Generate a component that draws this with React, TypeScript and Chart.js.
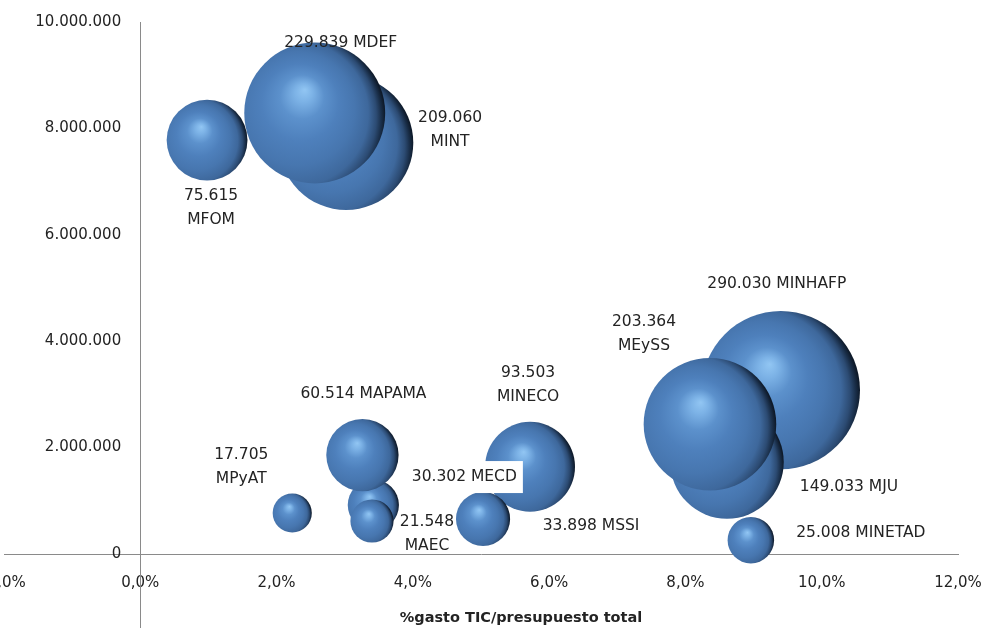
import React, { useEffect, useRef } from 'react';
import { Chart, registerables } from 'chart.js';

Chart.register(...registerables);

// ---- Data ----
// back-to-front drawing order
const ministries = ['MINT', 'MDEF', 'MFOM', 'MINHAFP', 'MJU', 'MEySS', 'MINETAD', 'MECD', 'MAPAMA', 'MAEC', 'MPyAT', 'MINECO', 'MSSI'];
// bubble size: gasto TIC (miles de euros)
const gastoTIC = [209060, 229839, 75615, 290030, 149033, 203364, 25008, 30302, 60514, 21548, 17705, 93503, 33898];
// x: % gasto TIC / presupuesto total
const pctGastoTIC = [3.02, 2.56, 0.98, 9.4, 8.61, 8.36, 8.96, 3.42, 3.26, 3.4, 2.23, 5.72, 5.03];
// y: presupuesto total
const presupuestoTotal = [7730000, 8290000, 7780000, 3080000, 1730000, 2440000, 260000, 920000, 1860000, 620000, 770000, 1640000, 660000];

const xTickValues = [-2, 0, 2, 4, 6, 8, 10, 12];
const yTickValues = [0, 2000000, 4000000, 6000000, 8000000, 10000000];
const xAxisTitle = '%gasto TIC/presupuesto total';

// ---- Formatting helpers ----
const fmtThousands = (n: number) => Math.round(n).toString().replace(/\B(?=(\d{3})+(?!\d))/g, '.');
const fmtPct = (v: number) => v.toFixed(1).replace('.', ',') + '%';

// ---- Label placement (pixel offsets from bubble centre) ----
const labelPlacement: Record<string, { dx: number; dy: number; twoLines: boolean; box?: boolean }> = {
  MDEF: { dx: 26, dy: -70, twoLines: false },
  MINT: { dx: 104, dy: -25, twoLines: true },
  MFOM: { dx: 4, dy: 56, twoLines: true },
  MINHAFP: { dx: -4, dy: -106, twoLines: false },
  MEySS: { dx: -66, dy: -102, twoLines: true },
  MINECO: { dx: -2, dy: -94, twoLines: true },
  MAPAMA: { dx: 1, dy: -61, twoLines: false },
  MPyAT: { dx: -51, dy: -58, twoLines: true },
  MECD: { dx: 91, dy: -28, twoLines: false, box: true },
  MAEC: { dx: 55, dy: 1, twoLines: true },
  MSSI: { dx: 108, dy: 7, twoLines: false },
  MJU: { dx: 122, dy: 25, twoLines: false },
  MINETAD: { dx: 110, dy: -7, twoLines: false },
};

const FONT = '"DejaVu Sans", sans-serif';
const TEXT_COLOR = '#232323';
const AXIS_COLOR = '#8a8a8a';
const SIZE_K = 0.147;
const Y_LABEL_ANCHOR = -0.28; // x value where the y tick labels end (left of the 0% axis line)

const bubbleFill = (ctx: any) => {
  const chart = ctx.chart;
  const raw = ctx.raw;
  const xs = chart.scales?.x;
  const ys = chart.scales?.y;
  if (!raw || !xs || !ys || ctx.type !== 'data') return '#4a7bb7';
  const cx = xs.getPixelForValue(raw.x);
  const cy = ys.getPixelForValue(raw.y);
  const r = raw.r;
  if (!isFinite(cx) || !isFinite(cy)) return '#4a7bb7';
  const hx = cx - 0.14 * r;
  const hy = cy - 0.33 * r;
  const g = chart.ctx.createRadialGradient(hx, hy, 0, cx - 0.3 * r, cy + 0.1 * r, 1.3 * r);
  g.addColorStop(0, '#92c6f3');
  g.addColorStop(0.1, '#7cb2e6');
  g.addColorStop(0.24, '#5c91cc');
  g.addColorStop(0.42, '#4e80bc');
  g.addColorStop(0.62, '#4776af');
  g.addColorStop(0.79, '#3e689c');
  g.addColorStop(0.89, '#2c4b73');
  g.addColorStop(0.95, '#1a2f4a');
  g.addColorStop(1, '#0e1a2a');
  return g;
};

const labelsPlugin = {
  id: 'bubbleLabels',
  afterDatasetsDraw(chart: any) {
    const ctx = chart.ctx;
    const meta = chart.getDatasetMeta(0);
    ctx.save();
    ctx.font = `15.5px ${FONT}`;
    ctx.textAlign = 'center';
    ctx.textBaseline = 'middle';
    meta.data.forEach((el: any, i: number) => {
      const name = ministries[i];
      const p = labelPlacement[name];
      if (!p) return;
      const value = fmtThousands(gastoTIC[i]);
      const cx = el.x + p.dx;
      const cy = el.y + p.dy;
      if (p.twoLines) {
        ctx.fillStyle = TEXT_COLOR;
        ctx.fillText(value, cx, cy);
        ctx.fillText(name, cx, cy + 24);
      } else {
        const text = `${value} ${name}`;
        if (p.box) {
          const w = ctx.measureText(text).width + 12;
          ctx.fillStyle = '#ffffff';
          ctx.fillRect(cx - w / 2, cy - 16, w, 32);
        }
        ctx.fillStyle = TEXT_COLOR;
        ctx.fillText(text, cx, cy);
      }
    });
    ctx.restore();
  },
};

const axisExtrasPlugin = {
  id: 'axisExtras',
  beforeDatasetsDraw(chart: any) {
    const ctx = chart.ctx;
    const x0 = Math.round(chart.scales.x.getPixelForValue(0)) + 0.5;
    ctx.save();
    ctx.strokeStyle = AXIS_COLOR;
    ctx.lineWidth = 1;
    ctx.beginPath();
    ctx.moveTo(x0, chart.chartArea.top);
    ctx.lineTo(x0, chart.height);
    ctx.stroke();
    ctx.restore();
  },
  afterDraw(chart: any) {
    const ctx = chart.ctx;
    ctx.save();
    ctx.font = `bold 14.5px ${FONT}`;
    ctx.fillStyle = TEXT_COLOR;
    ctx.textAlign = 'center';
    ctx.textBaseline = 'middle';
    ctx.fillText(xAxisTitle, 521, 618);
    ctx.restore();
  },
};

export default function App() {
  const canvasRef = useRef<HTMLCanvasElement | null>(null);

  useEffect(() => {
    document.body.style.margin = '0';
    const canvas = canvasRef.current;
    if (!canvas) return;
    const data = ministries.map((name, i) => ({
      x: pctGastoTIC[i],
      y: presupuestoTotal[i],
      r: SIZE_K * Math.sqrt(gastoTIC[i]),
      name,
    }));
    const chart = new Chart(canvas, {
      type: 'bubble',
      data: {
        datasets: [
          {
            label: 'Gasto TIC',
            data,
            backgroundColor: bubbleFill as any,
            borderWidth: 0,
            hoverBorderWidth: 0,
            clip: false as any,
          },
        ],
      },
      options: {
        responsive: false,
        animation: false,
        events: [],
        layout: { autoPadding: false, padding: { left: 4, right: 29, top: 22, bottom: 0 } } as any,
        plugins: {
          legend: { display: false },
          tooltip: { enabled: false },
          title: { display: false },
        },
        scales: {
          x: {
            type: 'linear',
            position: 'bottom',
            min: -2,
            max: 12,
            afterBuildTicks: (scale: any) => {
              scale.ticks = xTickValues.map((v) => ({ value: v }));
            },
            afterFit: (scale: any) => {
              scale.paddingLeft = 0;
              scale.paddingRight = 0;
              scale.height = 74;
            },
            grid: { display: false, drawTicks: false },
            border: { display: true, color: AXIS_COLOR, width: 1 },
            ticks: {
              padding: 20,
              color: TEXT_COLOR,
              font: { family: FONT, size: 15 },
              maxRotation: 0,
              autoSkip: false,
              callback: (v: any) => fmtPct(Number(v)),
            },
          },
          y: {
            type: 'linear',
            position: { x: Y_LABEL_ANCHOR } as any,
            min: 0,
            max: 10000000,
            afterBuildTicks: (scale: any) => {
              scale.ticks = yTickValues.map((v) => ({ value: v }));
            },
            afterFit: (scale: any) => {
              scale.paddingTop = 0;
              scale.paddingBottom = 0;
            },
            grid: { display: false, drawTicks: false },
            border: { display: false },
            ticks: {
              padding: 0,
              color: TEXT_COLOR,
              font: { family: FONT, size: 15 },
              autoSkip: false,
              callback: (v: any) => fmtThousands(Number(v)),
            },
          },
        },
      },
      plugins: [labelsPlugin, axisExtrasPlugin],
    });
    return () => {
      chart.destroy();
    };
  }, []);

  return (
    <div style={{ width: 987, height: 628, background: '#ffffff' }}>
      <canvas ref={canvasRef} width={987} height={628} style={{ display: 'block', width: 987, height: 628 }} />
    </div>
  );
}
